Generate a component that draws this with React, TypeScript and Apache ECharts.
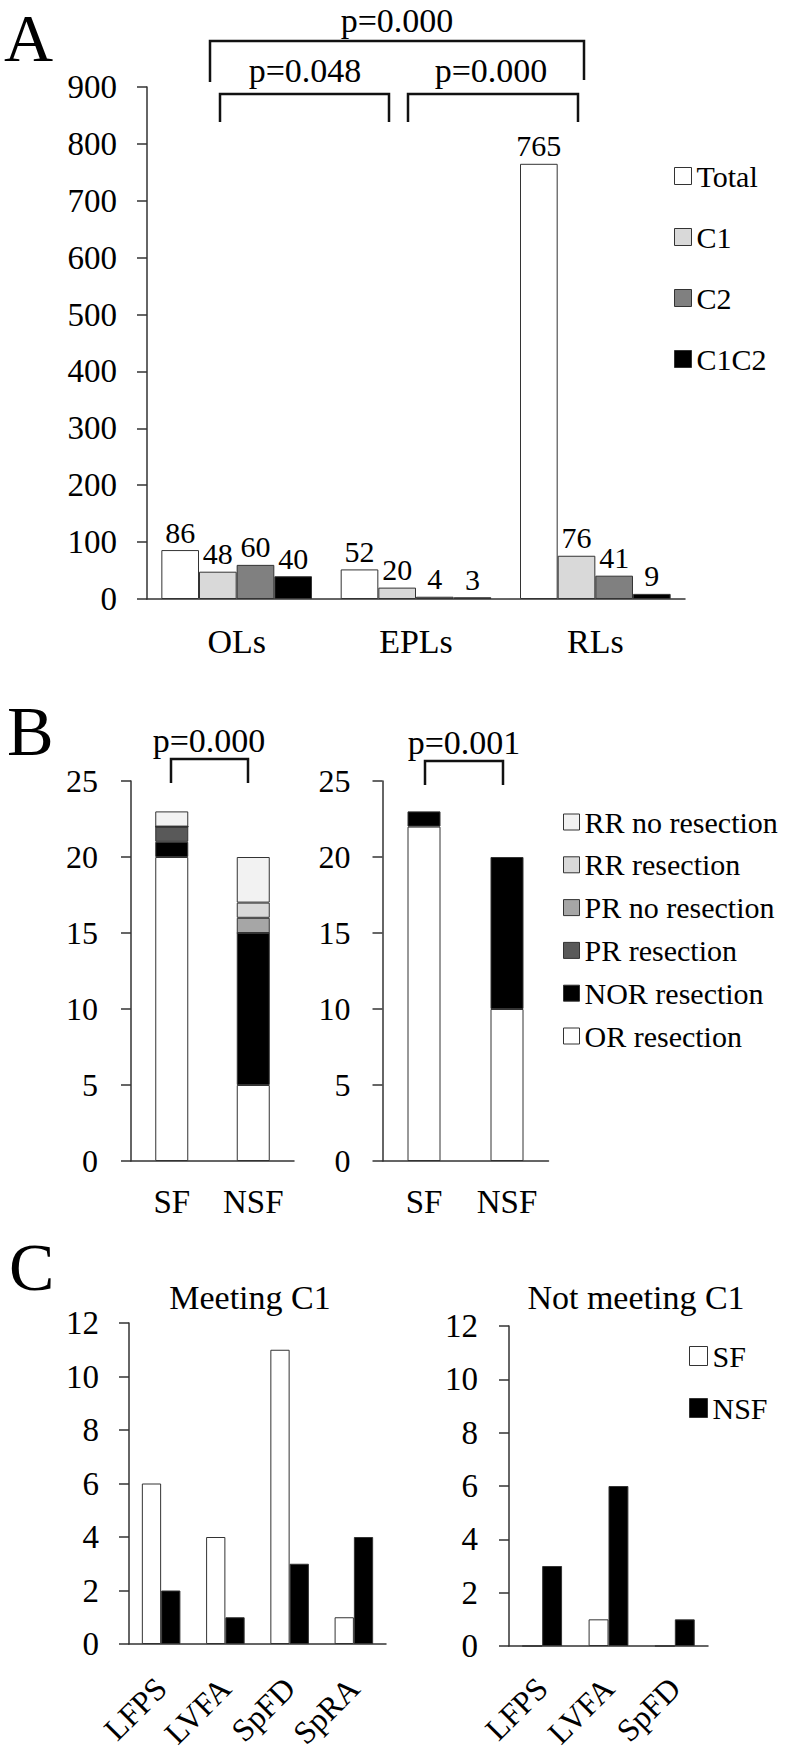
import React, { useEffect, useRef } from "react";
import * as echarts from "echarts";

// ---------- data ----------
const catsA = ["OLs", "EPLs", "RLs"];
const totalA = [86, 52, 765];
const c1A = [48, 20, 76];
const c2A = [60, 4, 41];
const c1c2A = [40, 3, 9];

const catsB = ["SF", "NSF"];
// left panel B
const orResL = [20, 5];
const norResL = [1, 10];
const prResL = [1, 0];
const prNoResL = [0, 1];
const rrResL = [0, 1];
const rrNoResL = [1, 3];
// right panel B
const orResR = [22, 10];
const norResR = [1, 10];

const catsC1 = ["LFPS", "LVFA", "SpFD", "SpRA"];
const sfC1 = [6, 4, 11, 1];
const nsfC1 = [2, 1, 3, 4];
const catsC2 = ["LFPS", "LVFA", "SpFD"];
const sfC2 = [0, 1, 0];
const nsfC2 = [3, 6, 1];

const legendA = ["Total", "C1", "C2", "C1C2"];
const legendB = ["RR no resection", "RR resection", "PR no resection", "PR resection", "NOR resection", "OR resection"];
const legendC = ["SF", "NSF"];
const pTextsA = ["p=0.000", "p=0.048", "p=0.000"];
const pTextsB = ["p=0.000", "p=0.001"];
const titlesC = ["Meeting C1", "Not meeting C1"];

const FF = '"Liberation Serif", "Times New Roman", serif';
const BORDER = "#333333";
const AXIS = { lineStyle: { color: "#333333", width: 1.5 } };

function yAx(gridIndex: number, max: number, interval: number, fontSize: number, margin: number) {
  return {
    type: "value",
    gridIndex,
    min: 0,
    max,
    interval,
    axisLine: { show: true, ...AXIS },
    axisTick: { show: true, length: 10, inside: false, lineStyle: { color: "#333333", width: 1.5 } },
    splitLine: { show: false },
    axisLabel: { fontFamily: FF, fontSize, color: "#000", margin },
  };
}

function xAx(gridIndex: number, data: string[], fontSize: number, margin: number, rotate = 0) {
  const lab: any = { fontFamily: FF, fontSize, color: "#000", margin, interval: 0 };
  if (rotate) {
    lab.rotate = rotate;
    lab.hideOverlap = false;
  }
  return {
    type: "category",
    gridIndex,
    data,
    axisLine: { show: true, ...AXIS },
    axisTick: { show: false },
    axisLabel: lab,
  };
}

function bar(name: string, data: number[], color: string, xi: number, extra: any = {}) {
  return {
    type: "bar",
    name,
    data,
    xAxisIndex: xi,
    yAxisIndex: xi,
    itemStyle: { color, borderColor: BORDER, borderWidth: 1 },
    ...extra,
  };
}

const colA = ["#ffffff", "#d9d9d9", "#808080", "#000000"];
const colB: Record<string, string> = {
  "OR resection": "#ffffff",
  "NOR resection": "#000000",
  "PR resection": "#595959",
  "PR no resection": "#a6a6a6",
  "RR resection": "#d9d9d9",
  "RR no resection": "#f2f2f2",
};

export default function App() {
  const ref = useRef<HTMLDivElement>(null);
  useEffect(() => {
    if (!ref.current) return;
    const chart = echarts.init(ref.current, undefined, { renderer: "svg" });

    const labA = { show: true, position: "top", distance: 3, fontFamily: FF, fontSize: 30, color: "#000" };
    const aOpts = { barGap: "0%", barCategoryGap: "16%", label: labA };
    const bOptsL = { stack: "bl", barWidth: 33 };
    const bOptsR = { stack: "br", barWidth: 33 };
    const cOpts = { barGap: "0%", barCategoryGap: "40%" };

    const brackets = [
      [[210, 82], [210, 41], [584, 41], [584, 80]],
      [[220, 122], [220, 94], [389, 94], [389, 122]],
      [[408, 122], [408, 94], [578, 94], [578, 122]],
      [[171, 783], [171, 759], [248, 759], [248, 783]],
      [[425, 785], [425, 761], [503, 761], [503, 785]],
    ];
    const txt = (text: string, x: number, y: number, fontSize: number, align = "center") => ({
      type: "text",
      style: { text, x, y, fontFamily: FF, fontSize, fill: "#000", align, verticalAlign: "middle", lineHeight: fontSize },
    });

    const legendBase = {
      orient: "vertical",
      padding: 0,
      icon: "rect",
      itemStyle: { borderColor: BORDER, borderWidth: 1 },
      textStyle: { fontFamily: FF, fontSize: 30, color: "#000", lineHeight: 30 },
      selectedMode: false,
    };

    const graphic: any[] = [
      txt("A", 4, 38, 68, "left"),
      txt("B", 7, 731, 70, "left"),
      txt("C", 9, 1267, 68, "left"),
      txt(pTextsA[0], 397, 20, 34),
      txt(pTextsA[1], 305, 70, 34),
      txt(pTextsA[2], 491, 70, 34),
      txt(pTextsB[0], 209, 740, 34),
      txt(pTextsB[1], 464, 742, 34),
      txt(titlesC[0], 250, 1297, 34),
      txt(titlesC[1], 636, 1297, 34),
      ...brackets.map((pts) => ({
        type: "polyline",
        shape: { points: pts },
        style: { stroke: "#111", lineWidth: 2.5, fill: "none" },
      })),
    ];

    chart.setOption({
      animation: false,
      backgroundColor: "#ffffff",
      grid: [
        { left: 147, top: 87, width: 538, height: 512, outerBoundsMode: "none" },
        { left: 131, top: 781, width: 163, height: 380, outerBoundsMode: "none" },
        { left: 382.5, top: 781, width: 166, height: 380, outerBoundsMode: "none" },
        { left: 129, top: 1323, width: 257, height: 321, outerBoundsMode: "none" },
        { left: 509, top: 1326, width: 199, height: 320, outerBoundsMode: "none" },
      ],
      xAxis: [
        xAx(0, catsA, 34, 25),
        xAx(1, catsB, 33, 24),
        xAx(2, catsB, 33, 24),
        xAx(3, catsC1, 32, 39, 45),
        xAx(4, catsC2, 32, 37, 45),
      ],
      yAxis: [
        yAx(0, 900, 100, 33, 30),
        yAx(1, 25, 5, 32, 33),
        yAx(2, 25, 5, 32, 32),
        yAx(3, 12, 2, 33, 30),
        yAx(4, 12, 2, 33, 31),
      ],
      legend: [
        { ...legendBase, data: legendA, left: 674, top: 161, itemWidth: 17, itemHeight: 17, itemGap: 31 },
        { ...legendBase, data: legendB, left: 563, top: 807, itemWidth: 16, itemHeight: 16, itemGap: 12.8 },
        { ...legendBase, data: legendC, left: 689, top: 1341, itemWidth: 18, itemHeight: 19, itemGap: 22 },
      ],
      series: [
        bar("Total", totalA, colA[0], 0, aOpts),
        bar("C1", c1A, colA[1], 0, aOpts),
        bar("C2", c2A, colA[2], 0, aOpts),
        bar("C1C2", c1c2A, colA[3], 0, aOpts),

        bar("OR resection", orResL, colB["OR resection"], 1, bOptsL),
        bar("NOR resection", norResL, colB["NOR resection"], 1, bOptsL),
        bar("PR resection", prResL, colB["PR resection"], 1, bOptsL),
        bar("PR no resection", prNoResL, colB["PR no resection"], 1, bOptsL),
        bar("RR resection", rrResL, colB["RR resection"], 1, bOptsL),
        bar("RR no resection", rrNoResL, colB["RR no resection"], 1, bOptsL),

        bar("OR resection", orResR, colB["OR resection"], 2, bOptsR),
        bar("NOR resection", norResR, colB["NOR resection"], 2, bOptsR),

        bar("SF", sfC1, "#ffffff", 3, cOpts),
        bar("NSF", nsfC1, "#000000", 3, cOpts),
        bar("SF", sfC2, "#ffffff", 4, cOpts),
        bar("NSF", nsfC2, "#000000", 4, cOpts),
      ],
      graphic,
    });

    return () => chart.dispose();
  }, []);

  return (
    <div
      ref={ref}
      style={{ position: "absolute", left: 0, top: 0, width: 794, height: 1756, background: "#fff" }}
    />
  );
}
